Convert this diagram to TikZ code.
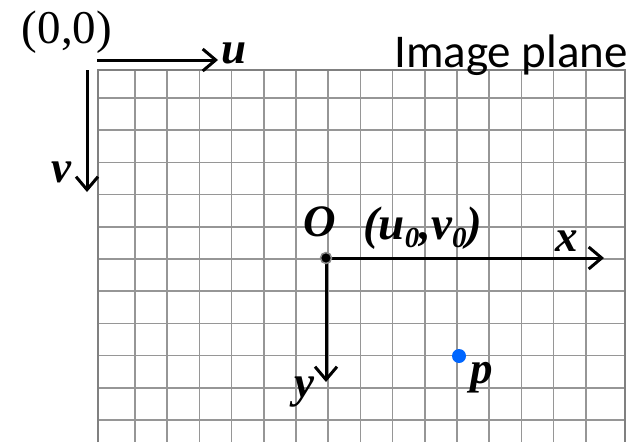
\documentclass[tikz,border=0pt]{standalone}
\usepackage{fontspec}
\setmainfont{Liberation Serif}
\newfontfamily\planefont{Carlito}
\usetikzlibrary{arrows.meta}
\definecolor{gridgray}{RGB}{150,150,150}
\definecolor{pointblue}{RGB}{0,102,255}
\newcommand\lowidx[1]{\raisebox{-8pt}{\fontsize{29}{29}\selectfont #1}}

\begin{document}
\begin{tikzpicture}[
  x=1pt, y=-1pt,
  font=\fontsize{44}{48}\selectfont,
  axis/.style={-{Straight Barb[length=13pt,width=22pt]}, line width=3pt, draw=black},
  gridline/.style={draw=gridgray, line width=1.6pt},
  border/.style={draw=black!50, line width=2.4pt},
  coord/.style={inner sep=0pt, font=\fontsize{45}{48}\selectfont\bfseries\itshape},
  plain/.style={inner sep=0pt, font=\fontsize{47}{50}\selectfont},
  dot/.style={circle, inner sep=0pt}
]
\useasboundingbox (0,0) rectangle (632,442);

% image plane grid
\foreach \gx in {0,...,14} \draw[gridline] (135+32.2*\gx,70) -- (135+32.2*\gx,442);
\foreach \gy in {0,...,10} \draw[gridline] (98,98+32.2*\gy) -- (625,98+32.2*\gy);
\draw[border] (98,442) -- (98,70) -- (625,70) -- (625,442);

\node[plain] (zero) at (67,32) {(0,0)};
\node[coord] (ulabel) at (234,53) {u};
\node[coord] (vlabel) at (61,172) {v};
\node[plain, anchor=base west, font=\fontsize{47}{50}\selectfont\planefont] (plane) at (394,67) {Image plane};
\coordinate (ustart) at (97,60);
\coordinate (uend) at (218,60);
\coordinate (vstart) at (87,70);
\coordinate (vend) at (87,192);

\coordinate (o) at (326,258);
\node[coord] (olabel) at (320,222) {O};
\node[coord, anchor=base west, font=\fontsize{47}{50}\selectfont\bfseries\itshape] (principal) at (363,239) {(u\lowidx{0},v\lowidx{0})};
\node[coord] (xlabel) at (567,241) {x};
\node[coord, anchor=base] (ylabel) at (304,397) {y};
\coordinate (xend) at (604,258);
\coordinate (yend) at (326,382);

\draw[axis] (ustart) -- (uend);
\draw[axis] (vstart) -- (vend);
\draw[axis] (o) -- (xend);
\draw[axis] (o) -- (yend);

\node[dot, fill=black, draw=black!45, line width=1.5pt, minimum size=11pt] (origin) at (o) {};
\node[dot, fill=pointblue, minimum size=14pt] (pdot) at (459,356) {};
\node[coord, anchor=base] (plabel) at (482,383) {p};

\end{tikzpicture}
\end{document}
